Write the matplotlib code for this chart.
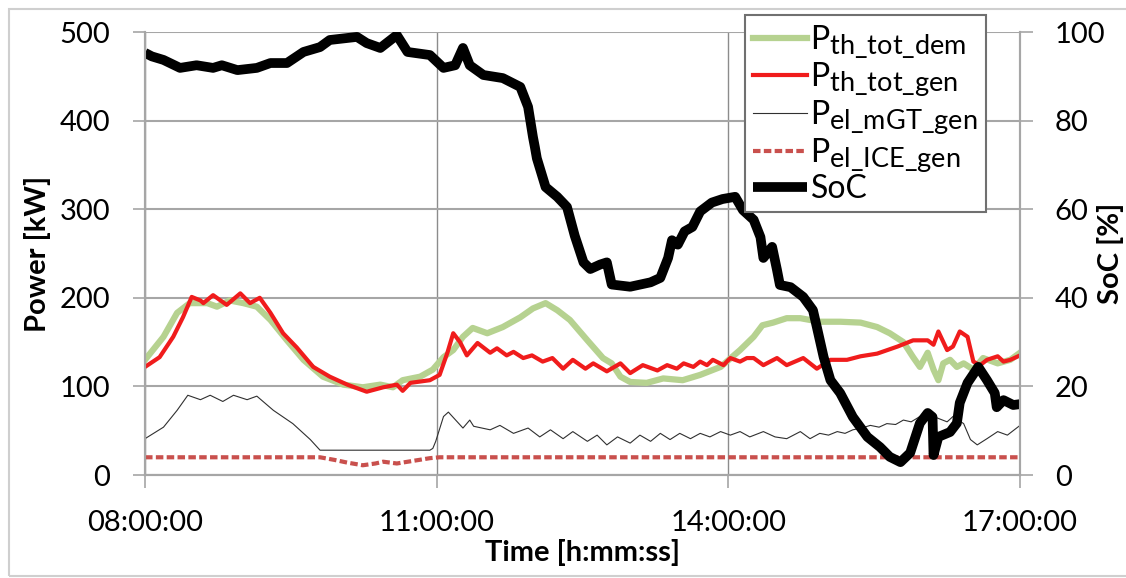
import numpy as np
import matplotlib
matplotlib.use('Agg')
import matplotlib.pyplot as plt
import matplotlib._mathtext as mathtext_internal
from matplotlib.ticker import FuncFormatter, MultipleLocator
from matplotlib.patches import Rectangle

plt.rcParams['font.family'] = ['Lato', 'DejaVu Sans']
plt.rcParams['mathtext.default'] = 'regular'
# larger subscripts in the legend labels
mathtext_internal.SHRINK_FACTOR = 0.85

# time axis in decimal hours, power in kW, SoC in %
t_dem = [8.00, 8.19, 8.33, 8.46, 8.64, 8.74, 8.87, 9.01, 9.15, 9.29, 9.46, 9.63,
         9.83, 10.04, 10.24, 10.42, 10.55, 10.65, 10.83, 10.96, 11.07, 11.17,
         11.27, 11.37, 11.52, 11.68, 11.86, 11.99, 12.12, 12.24, 12.37, 12.55,
         12.71, 12.80, 12.89, 12.99, 13.16, 13.33, 13.53, 13.71, 13.92, 14.12,
         14.26, 14.35, 14.46, 14.60, 14.74, 14.94, 15.15, 15.36, 15.53, 15.66,
         15.80, 15.90, 15.97, 16.05, 16.11, 16.16, 16.21, 16.28, 16.35, 16.42,
         16.52, 16.62, 16.77, 16.90, 17.00]
p_th_dem = [130, 156, 183, 194, 194, 190, 197, 194, 190, 175, 152, 130,
            111, 102, 99, 102, 99, 107, 111, 119, 133, 141,
            156, 166, 160, 167, 178, 188, 194, 186, 175, 152,
            132, 126, 111, 105, 104, 109, 107, 113, 122, 141,
            156, 169, 172, 177, 177, 173, 173, 172, 167, 160,
            150, 133, 122, 138, 119, 107, 126, 130, 122, 126,
            119, 132, 126, 130, 138]

t_gen = [8.00, 8.15, 8.29, 8.39, 8.48, 8.57, 8.60, 8.70, 8.84, 8.98, 9.08, 9.18,
         9.29, 9.42, 9.56, 9.73, 9.90, 10.08, 10.28, 10.45, 10.59, 10.65, 10.73,
         10.93, 11.03, 11.11, 11.17, 11.24, 11.31, 11.42, 11.55, 11.62, 11.72,
         11.79, 11.89, 11.98, 12.09, 12.19, 12.30, 12.40, 12.53, 12.61, 12.75,
         12.89, 12.99, 13.12, 13.27, 13.37, 13.47, 13.54, 13.64, 13.71, 13.78,
         13.84, 13.95, 14.02, 14.12, 14.19, 14.26, 14.36, 14.50, 14.60, 14.77,
         14.91, 15.05, 15.22, 15.36, 15.53, 15.74, 15.90, 16.05, 16.11, 16.16,
         16.25, 16.31, 16.38, 16.46, 16.52, 16.59, 16.66, 16.77, 16.83, 16.90,
         17.00]
p_th_gen = [122, 133, 156, 178, 201, 197, 194, 203, 192, 205, 194, 200,
            183, 160, 144, 122, 111, 102, 94, 99, 102, 95, 104,
            107, 113, 138, 160, 150, 135, 149, 138, 143, 135,
            139, 132, 135, 128, 132, 120, 130, 120, 126, 117,
            126, 115, 124, 118, 124, 120, 126, 122, 128, 124,
            130, 124, 132, 128, 132, 132, 124, 132, 124, 132,
            120, 130, 130, 134, 137, 145, 152, 152, 147, 162,
            141, 145, 162, 156, 128, 124, 130, 134, 128, 130,
            135]

t_mgt = [8.00, 8.19, 8.33, 8.44, 8.57, 8.67, 8.80, 8.91, 9.05, 9.15, 9.32, 9.52,
         9.70, 9.80, 10.93, 10.96, 10.99, 11.07, 11.12, 11.27, 11.34, 11.38,
         11.55, 11.65, 11.79, 11.94, 12.06, 12.17, 12.30, 12.40, 12.55, 12.65,
         12.75, 12.86, 12.99, 13.09, 13.20, 13.30, 13.40, 13.50, 13.61, 13.71,
         13.81, 13.92, 14.02, 14.12, 14.22, 14.36, 14.48, 14.60, 14.74, 14.84,
         14.94, 15.03, 15.12, 15.20, 15.28, 15.37, 15.46, 15.55, 15.63, 15.72,
         15.80, 15.88, 15.97, 16.04, 16.11, 16.25, 16.31, 16.42, 16.49, 16.56,
         16.66, 16.77, 16.87, 17.00]
p_el_mgt = [41, 54, 73, 90, 85, 90, 83, 90, 85, 89, 73, 58,
            40, 28, 28, 30, 38, 66, 71, 53, 62, 55,
            51, 56, 47, 53, 43, 51, 41, 49, 38, 45,
            34, 43, 36, 45, 38, 47, 40, 47, 41, 47,
            43, 49, 45, 49, 43, 49, 43, 41, 49, 41,
            47, 45, 49, 47, 51, 53, 56, 54, 58, 57,
            62, 60, 66, 63, 66, 60, 66, 58, 40, 34,
            41, 49, 45, 56]

t_ice = [8.00, 9.80, 9.95, 10.08, 10.24, 10.37, 10.45, 10.59, 10.76, 10.93,
         11.03, 17.00]
p_el_ice = [20, 20, 17, 14, 11, 13, 15, 13, 16, 19,
            20, 20]

t_soc = [8.00, 8.07, 8.19, 8.36, 8.53, 8.70, 8.79, 8.95, 9.15, 9.29, 9.46, 9.63,
         9.80, 9.90, 10.18, 10.28, 10.42, 10.59, 10.70, 10.93, 11.07, 11.19,
         11.27, 11.34, 11.48, 11.68, 11.86, 11.94, 11.99, 12.01, 12.03,
         12.12, 12.24, 12.34, 12.42, 12.51, 12.58, 12.68, 12.75, 12.80, 12.99,
         13.20, 13.30, 13.38, 13.42, 13.48, 13.55, 13.63, 13.71, 13.83, 13.94,
         14.07, 14.15, 14.26, 14.33, 14.36, 14.45, 14.50, 14.53, 14.64, 14.77,
         14.87, 14.91, 14.98, 15.05, 15.15, 15.28, 15.43, 15.56, 15.66, 15.77,
         15.87, 15.97, 16.05, 16.10, 16.11, 16.16, 16.28, 16.35, 16.38, 16.46,
         16.57, 16.66, 16.74, 16.76, 16.83, 16.93, 17.00]
soc = [95.3, 94.5, 93.7, 91.9, 92.5, 91.9, 92.5, 91.4, 91.9, 93.0, 93.0, 95.5,
       96.6, 98.2, 98.9, 97.5, 96.4, 99.3, 95.5, 94.8, 91.9, 92.5,
       96.4, 92.5, 90.3, 89.6, 87.6, 83.1, 76.3, 74.0, 71.5,
       65.0, 62.8, 60.5, 54.0, 48.0, 46.5, 47.5, 48.0, 43.0, 42.5,
       43.5, 44.5, 49.0, 53.0, 52.0, 55.0, 56.0, 59.5, 61.5, 62.3,
       62.8, 59.8, 57.6, 53.7, 49.0, 51.5, 46.3, 42.9, 42.4, 40.2,
       37.2, 33.4, 26.6, 21.4, 18.5, 13.1, 8.6, 6.3, 4.1, 2.9,
       5.0, 11.7, 14.0, 13.1, 4.5, 8.6, 9.7, 11.7, 16.3, 20.8,
       24.4, 21.4, 18.5, 15.3, 16.9, 15.8, 16.0]

GRID = '#a6a6a6'

fig = plt.figure(figsize=(11.26, 5.78), dpi=100)
ax = fig.add_axes([0.1288, 0.1782, 0.7771, 0.7664])
ax2 = ax.twinx()

l1, = ax.plot(t_dem, p_th_dem, color='#b6d290', lw=4.5, solid_joinstyle='round')
l2, = ax.plot(t_gen, p_th_gen, color='#f01c1c', lw=3.0, solid_joinstyle='round')
l3, = ax.plot(t_mgt, p_el_mgt, color='#303030', lw=0.8)
l4, = ax.plot(t_ice, p_el_ice, color='#c9504d', lw=3.0, dashes=(1.8, 0.8))
l5, = ax2.plot(t_soc, soc, color='black', lw=7.0, solid_joinstyle='round',
               solid_capstyle='butt')

ax.set_xlim(8, 17)
ax.set_ylim(0, 500)
ax2.set_ylim(0, 100)
ax.set_xticks([8, 11, 14, 17])
ax.xaxis.set_major_formatter(FuncFormatter(lambda h, pos: '%02d:00:00' % int(round(h))))
ax.yaxis.set_major_locator(MultipleLocator(100))
ax2.yaxis.set_major_locator(MultipleLocator(20))

ax.grid(True, axis='y', color=GRID, lw=1.5)
ax.grid(True, axis='x', color='#8c8c8c', lw=1.0)
ax.set_axisbelow(True)

for a in (ax, ax2):
    a.spines['top'].set_visible(False)
    for s in ('left', 'right', 'bottom'):
        a.spines[s].set_color(GRID)
        a.spines[s].set_linewidth(1.5)
    a.tick_params(labelsize=21, length=9, width=1.2, color=GRID, pad=16)
ax.tick_params(axis='x', pad=16)

ax.set_ylabel('Power [kW]', fontsize=21, fontweight='bold')
ax.yaxis.set_label_coords(-0.108, 0.5)
ax.set_xlabel('Time [h:mm:ss]', fontsize=21, fontweight='bold', labelpad=2)
ax2.set_ylabel('SoC [%]', fontsize=21, fontweight='bold', rotation=90)
ax2.yaxis.set_label_coords(1.088, 0.5)

labels = [r'P$_{th\_tot\_dem}$', r'P$_{th\_tot\_gen}$', r'P$_{el\_mGT\_gen}$',
          r'P$_{el\_ICE\_gen}$', 'SoC']
leg = fig.legend([l1, l2, l3, l4, l5], labels, loc='upper left',
                 bbox_to_anchor=(745 / 1126, 1 - 15 / 578), fontsize=23,
                 frameon=True, fancybox=False, framealpha=1, edgecolor='#707070',
                 handlelength=1.7, handletextpad=0.1, labelspacing=0.0,
                 borderpad=0.25, borderaxespad=0)
leg.get_frame().set_linewidth(1.5)

# outer chart border
fig.patches.append(Rectangle((9 / 1126, 2 / 578), 1.2, 1 - 11 / 578,
                             transform=fig.transFigure, fill=False,
                             edgecolor='#cfcfcf', lw=1.5))

fig.savefig('out.png', dpi=100)
